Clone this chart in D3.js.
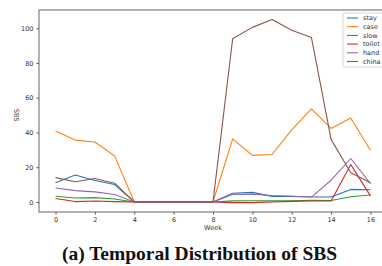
<!DOCTYPE html>
<html>
<head>
<meta charset="utf-8">
<script src="https://cdn.jsdelivr.net/npm/d3@7"></script>
<style>
  body { margin: 0; background: #fff; }
  svg { display: block; }
</style>
</head>
<body>
<div id="chart"></div>
<script>
var weeks = d3.range(0, 17);
var seriesNames = ["stay", "case", "slow", "toilet", "hand", "china"];
var stay   = [11, 15.5, 12.3, 10, 0, 0, 0, 0, 0, 5, 5.5, 3.2, 3.2, 2.8, 2.8, 7.2, 7];
var cases  = [40.8, 35.6, 34.5, 26.5, 0, 0, 0, 0, 0, 36.3, 26.8, 27.3, 41.5, 53.6, 42.3, 48.3, 29.8];
var slow   = [3.3, 2.3, 2.5, 1.7, 0, 0, 0, 0, 0, 0.6, 0.7, 0.6, 0.7, 1, 0.8, 3, 4];
var toilet = [2, 0.2, 0.5, 0.2, 0, 0, 0, 0, 0, -0.4, -0.4, 0, 0.3, 0.5, 0.5, 21.5, 3.5];
var hand   = [8, 6.5, 5.8, 4.3, 0, 0, 0, 0, 0, 4.3, 4.5, 3.7, 3.3, 2.8, 12.5, 25, 10.5];
var china  = [14, 11.6, 13.5, 10.8, 0, 0, 0, 0, 0, 94, 100.5, 105, 98.8, 94.7, 36, 16.8, 11];
var seriesValues = [stay, cases, slow, toilet, hand, china];
var xTicks = [0, 2, 4, 6, 8, 10, 12, 14, 16];
var yTicks = [0, 20, 40, 60, 80, 100];
var colors = ["#1f77b4", "#ff7f0e", "#2ca02c", "#d62728", "#9467bd", "#8c564b"];

var W = 382, H = 266;
var margin = {top: 10, left: 39},
    plotRight = 387, plotBottom = 212;

var svg = d3.select("#chart").append("svg")
    .attr("width", W).attr("height", H);

var x = d3.scaleLinear().domain([-0.84, 16.84]).range([margin.left, plotRight]);
var y = d3.scaleLinear().domain([-5.8, 110.5]).range([plotBottom, margin.top]);

// Lines
var line = d3.line()
    .x(function (d, i) { return x(weeks[i]); })
    .y(function (d) { return y(d); });

seriesValues.forEach(function (vals, k) {
    svg.append("path")
        .datum(vals)
        .attr("fill", "none")
        .attr("stroke", colors[k])
        .attr("stroke-width", 1.1)
        .attr("stroke-linejoin", "round")
        .attr("d", line);
});

// Axes
var xAxis = svg.append("g")
    .attr("transform", "translate(0," + plotBottom + ")")
    .call(d3.axisBottom(x).tickValues(xTicks).tickSize(2.5).tickPadding(3));
var yAxis = svg.append("g")
    .attr("transform", "translate(" + margin.left + ",0)")
    .call(d3.axisLeft(y).tickValues(yTicks).tickSize(2.5).tickPadding(3));

[xAxis, yAxis].forEach(function (g) {
    g.select(".domain").remove();
    g.selectAll(".tick line").attr("stroke", "#555");
    g.selectAll(".tick text")
        .attr("fill", "#333")
        .attr("font-family", "DejaVu Sans")
        .attr("font-size", "6.5px");
});

// Frame
svg.append("rect")
    .attr("x", margin.left).attr("y", margin.top)
    .attr("width", plotRight - margin.left)
    .attr("height", plotBottom - margin.top)
    .attr("fill", "none")
    .attr("stroke", "#666")
    .attr("stroke-width", 1);

// Axis labels
svg.append("text")
    .attr("x", x(8)).attr("y", 230)
    .attr("text-anchor", "middle")
    .attr("font-family", "DejaVu Sans")
    .attr("font-size", "6.5px")
    .attr("fill", "#333")
    .text("Week");

svg.append("text")
    .attr("transform", "translate(19," + y(50) + ") rotate(-90)")
    .attr("text-anchor", "middle")
    .attr("font-family", "DejaVu Sans")
    .attr("font-size", "6.5px")
    .attr("fill", "#333")
    .text("SBS");

// Legend
var legend = svg.append("g").attr("transform", "translate(343,13)");
legend.append("rect")
    .attr("x", 0).attr("y", 0)
    .attr("width", 45).attr("height", 54)
    .attr("rx", 1.5)
    .attr("fill", "#fff")
    .attr("fill-opacity", 0.8)
    .attr("stroke", "#ccc")
    .attr("stroke-width", 0.8);

seriesNames.forEach(function (name, k) {
    var ly = 5 + k * 8.7;
    legend.append("line")
        .attr("x1", 4).attr("x2", 15)
        .attr("y1", ly).attr("y2", ly)
        .attr("stroke", colors[k])
        .attr("stroke-width", 1.1);
    legend.append("text")
        .attr("x", 20).attr("y", ly + 2.3)
        .attr("font-family", "DejaVu Sans")
        .attr("font-size", "6.5px")
        .attr("fill", "#333")
        .text(name);
});

// Caption
svg.append("text")
    .attr("x", 199.5).attr("y", 260)
    .attr("text-anchor", "middle")
    .attr("font-family", "Liberation Serif")
    .attr("font-weight", "bold")
    .attr("font-size", "19.5px")
    .attr("fill", "#111")
    .text("(a) Temporal Distribution of SBS");
</script>
</body>
</html>
